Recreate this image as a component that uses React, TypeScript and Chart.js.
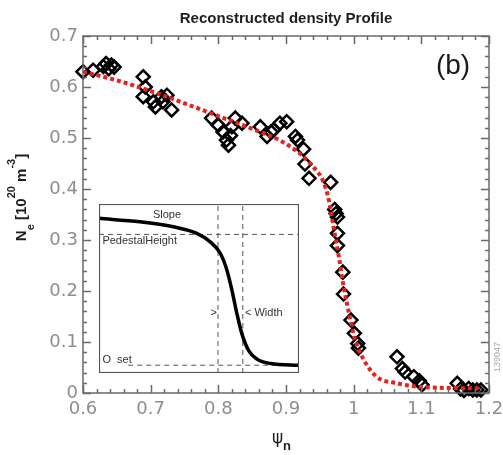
import React, { useEffect, useRef } from 'react';
import { Chart, registerables } from 'chart.js';

Chart.register(...registerables);

// Measured density points (psi_n, n_e in 1e20 m^-3)
const psiMeasured = [
  0.600, 0.615, 0.630, 0.634, 0.638, 0.642, 0.646,
  0.689, 0.692, 0.689, 0.704, 0.707, 0.716, 0.718, 0.724, 0.731,
  0.790, 0.800, 0.807, 0.812, 0.815, 0.818, 0.820, 0.825, 0.835,
  0.862, 0.872, 0.878, 0.882, 0.891, 0.901, 0.914, 0.917, 0.926, 0.928, 0.934,
  0.966, 0.972, 0.974, 0.976, 0.976, 0.976, 0.984, 0.985,
  0.996, 1.001, 1.006, 1.007,
  1.064, 1.072, 1.076, 1.089, 1.097, 1.101,
  1.153, 1.158, 1.163, 1.170, 1.176, 1.182, 1.188,
];
const neMeasured = [
  0.630, 0.633, 0.640, 0.646, 0.636, 0.643, 0.639,
  0.620, 0.600, 0.581, 0.571, 0.561, 0.581, 0.571, 0.584, 0.555,
  0.539, 0.525, 0.512, 0.496, 0.486, 0.505, 0.522, 0.539, 0.529,
  0.522, 0.503, 0.512, 0.516, 0.529, 0.532, 0.503, 0.496, 0.478, 0.449, 0.421,
  0.413, 0.360, 0.352, 0.345, 0.313, 0.289, 0.237, 0.194,
  0.143, 0.117, 0.097, 0.088,
  0.071, 0.048, 0.041, 0.032, 0.024, 0.016,
  0.019, 0.008, 0.005, 0.009, 0.006, 0.006, 0.006,
];

// Reconstructed fit (red dotted)
const psiFit = [
  0.600, 0.650, 0.700, 0.750, 0.800, 0.850, 0.890, 0.920, 0.940, 0.955,
  0.963, 0.970, 0.978, 0.985, 0.995, 1.002, 1.015, 1.034, 1.064, 1.100, 1.190,
];
const neFit = [
  0.630, 0.613, 0.592, 0.568, 0.543, 0.518, 0.496, 0.470, 0.444, 0.415,
  0.380, 0.327, 0.268, 0.210, 0.145, 0.105, 0.065, 0.032, 0.019, 0.012, 0.009,
];

const xTickValues = [0.6, 0.7, 0.8, 0.9, 1.0, 1.1, 1.2];
const xTickLabels = ['0.6', '0.7', '0.8', '0.9', '1', '1.1', '1.2'];
const yTickValues = [0, 0.1, 0.2, 0.3, 0.4, 0.5, 0.6, 0.7];
const yTickLabels = ['0', '0.1', '0.2', '0.3', '0.4', '0.5', '0.6', '0.7'];

// Inset schematic (normalized 0..100 units)
const insetCurveX = [0, 20.4, 37.2, 48.9, 55.6, 60.7, 64.0, 66.5, 69.0, 71.5, 74.9, 79.0, 85.8, 100];
const insetCurveY = [91.5, 89.5, 86.5, 82.6, 77.6, 70.7, 60.7, 48.8, 34.9, 23.0, 13.1, 8.2, 5.6, 4.6];
const insetPedestalX = [0, 100];
const insetPedestalY = [82, 82];
const insetOffsetX = [14.6, 100];
const insetOffsetY = [4.6, 4.6];
const insetWidthLeft = 59.5;
const insetWidthRight = 71.9;

const TICK_COLOR = '#8e8e8e';

const frameTicksPlugin = {
  id: 'frameTicks',
  beforeDraw(chart: any) {
    const { ctx, width, height } = chart;
    ctx.save();
    ctx.fillStyle = '#ffffff';
    ctx.fillRect(0, 0, width, height);
    ctx.restore();
  },
  afterDraw(chart: any) {
    const { ctx, chartArea: a, scales } = chart;
    const xs = scales.x;
    const ys = scales.y;
    ctx.save();
    ctx.strokeStyle = '#6a6a6a';
    ctx.lineWidth = 1.5;
    ctx.strokeRect(a.left, a.top, a.right - a.left, a.bottom - a.top);
    ctx.beginPath();
    for (let i = 0; i <= 30; i++) {
      const v = 0.6 + i * 0.02;
      const px = Math.round(xs.getPixelForValue(v)) + 0.5;
      const L = i % 5 === 0 ? 8 : 4;
      ctx.moveTo(px, a.bottom);
      ctx.lineTo(px, a.bottom - L);
      ctx.moveTo(px, a.top);
      ctx.lineTo(px, a.top + L);
    }
    for (let i = 0; i <= 35; i++) {
      const v = i * 0.02;
      const py = Math.round(ys.getPixelForValue(v)) + 0.5;
      const L = i % 5 === 0 ? 8 : 4;
      ctx.moveTo(a.left, py);
      ctx.lineTo(a.left + L, py);
      ctx.moveTo(a.right, py);
      ctx.lineTo(a.right - L, py);
    }
    ctx.stroke();

    // Title
    ctx.fillStyle = '#1e1e1e';
    ctx.font = 'bold 15px "Liberation Sans", Arial, sans-serif';
    ctx.textAlign = 'center';
    ctx.textBaseline = 'alphabetic';
    ctx.fillText('Reconstructed density Profile', (a.left + a.right) / 2, 23);

    // (b)
    ctx.font = '28px "Liberation Sans", Arial, sans-serif';
    ctx.textBaseline = 'middle';
    ctx.fillStyle = '#1a1a1a';
    ctx.fillText('(b)', 453, 66);

    // Shot number
    ctx.save();
    ctx.translate(498, 357);
    ctx.rotate(-Math.PI / 2);
    ctx.font = '9px "Liberation Sans", Arial, sans-serif';
    ctx.fillStyle = '#a8a8a8';
    ctx.textAlign = 'center';
    ctx.textBaseline = 'middle';
    ctx.fillText('139047', 0, 0);
    ctx.restore();

    // Y axis title
    const parts = [
      { t: 'N', f: 'bold 15px', dy: 0 },
      { t: 'e', f: 'bold 11px', dy: 8 },
      { t: ' [10', f: 'bold 15px', dy: 0 },
      { t: '20', f: 'bold 11px', dy: -11 },
      { t: ' m', f: 'bold 15px', dy: 0 },
      { t: '-3', f: 'bold 11px', dy: -11 },
      { t: ']', f: 'bold 15px', dy: 0 },
    ];
    const fam = ' "Liberation Sans", Arial, sans-serif';
    let total = 0;
    const widths: number[] = [];
    for (const p of parts) {
      ctx.font = p.f + fam;
      const w = ctx.measureText(p.t).width;
      widths.push(w);
      total += w;
    }
    ctx.save();
    ctx.translate(26, 197.5);
    ctx.rotate(-Math.PI / 2);
    ctx.textAlign = 'left';
    ctx.textBaseline = 'alphabetic';
    ctx.fillStyle = '#1e1e1e';
    let cx = -total / 2;
    parts.forEach((p, i) => {
      ctx.font = p.f + fam;
      ctx.fillText(p.t, cx, p.dy);
      cx += widths[i];
    });
    ctx.restore();

    // X axis title
    ctx.textAlign = 'left';
    ctx.textBaseline = 'alphabetic';
    ctx.fillStyle = '#1e1e1e';
    ctx.font = '17px "DejaVu Sans", sans-serif';
    ctx.fillText('\u03c8', 272, 443);
    ctx.font = 'bold 13px "Liberation Sans", Arial, sans-serif';
    ctx.fillText('n', 283, 450);
    ctx.restore();
  },
};

const insetPlugin = {
  id: 'insetDecor',
  beforeDraw(chart: any) {
    const { ctx, width, height } = chart;
    ctx.save();
    ctx.fillStyle = '#ffffff';
    ctx.fillRect(0, 0, width, height);
    ctx.restore();
  },
  afterDraw(chart: any) {
    const { ctx, width, height, scales } = chart;
    const xs = scales.x;
    const ys = scales.y;
    ctx.save();
    ctx.strokeStyle = '#555555';
    ctx.lineWidth = 1.2;
    ctx.strokeRect(0.5, 0.5, width - 1, height - 1);
    ctx.fillStyle = '#333333';
    ctx.font = '11px "Liberation Sans Narrow", "Liberation Sans", Arial, sans-serif';
    ctx.textBaseline = 'middle';
    ctx.textAlign = 'center';
    ctx.fillText('Slope', xs.getPixelForValue(34), ys.getPixelForValue(93.5));
    ctx.textAlign = 'left';
    ctx.fillText('PedestalHeight', xs.getPixelForValue(1.7), ys.getPixelForValue(78));
    ctx.fillText('>', xs.getPixelForValue(55.8), ys.getPixelForValue(35.3));
    ctx.fillText('< Width', xs.getPixelForValue(73), ys.getPixelForValue(35.3));
    ctx.fillText('O  set', xs.getPixelForValue(1.7), ys.getPixelForValue(8));
    ctx.restore();
  },
};

export default function App() {
  const mainRef = useRef<HTMLCanvasElement>(null);
  const insetRef = useRef<HTMLCanvasElement>(null);

  useEffect(() => {
    const tickFont = { family: '"DejaVu Sans", sans-serif', size: 18 };
    const main = new Chart(mainRef.current as HTMLCanvasElement, {
      type: 'scatter',
      data: {
        datasets: [
          {
            type: 'line',
            label: 'fit',
            data: psiFit.map((x, i) => ({ x, y: neFit[i] })),
            borderColor: '#e3231f',
            borderWidth: 4,
            borderDash: [4, 3],
            pointRadius: 0,
            fill: false,
            cubicInterpolationMode: 'monotone',
            clip: false,
          } as any,
          {
            label: 'measured',
            data: psiMeasured.map((x, i) => ({ x, y: neMeasured[i] })),
            pointStyle: 'rectRot',
            pointRadius: 6.5,
            borderColor: '#000000',
            backgroundColor: 'rgba(0,0,0,0)',
            borderWidth: 2.5,
            showLine: false,
            clip: false,
          } as any,
        ],
      },
      options: {
        responsive: false,
        animation: false,
        devicePixelRatio: 1,
        layout: { padding: { top: 36, right: 14, left: 0, bottom: 0 } },
        plugins: {
          legend: { display: false },
          tooltip: { enabled: false },
          title: { display: false },
        },
        scales: {
          x: {
            type: 'linear',
            min: 0.6,
            max: 1.2,
            afterBuildTicks: (s: any) => {
              s.ticks = xTickValues.map((v) => ({ value: v }));
            },
            afterFit: (s: any) => {
              s.height = 62;
              s.paddingLeft = 0;
              s.paddingRight = 0;
            },
            ticks: {
              callback: (_v: any, i: number) => xTickLabels[i],
              font: tickFont,
              color: TICK_COLOR,
              padding: 6,
              maxRotation: 0,
              autoSkip: false,
            },
            grid: { display: false, drawTicks: false },
            border: { display: false },
          },
          y: {
            type: 'linear',
            min: 0,
            max: 0.7,
            afterBuildTicks: (s: any) => {
              s.ticks = yTickValues.map((v) => ({ value: v }));
            },
            afterFit: (s: any) => {
              s.width = 83;
              s.paddingTop = 0;
              s.paddingBottom = 0;
            },
            ticks: {
              callback: (_v: any, i: number) => yTickLabels[i],
              font: tickFont,
              color: TICK_COLOR,
              padding: 5,
              autoSkip: false,
            },
            grid: { display: false, drawTicks: false },
            border: { display: false },
          },
        },
      } as any,
      plugins: [frameTicksPlugin],
    });

    const dashed = {
      borderColor: '#555555',
      borderWidth: 1,
      borderDash: [5, 4],
      pointRadius: 0,
      showLine: true,
      fill: false,
    };
    const inset = new Chart(insetRef.current as HTMLCanvasElement, {
      type: 'scatter',
      data: {
        datasets: [
          {
            label: 'curve',
            data: insetCurveX.map((x, i) => ({ x, y: insetCurveY[i] })),
            borderColor: '#000000',
            borderWidth: 3.5,
            pointRadius: 0,
            showLine: true,
            fill: false,
            cubicInterpolationMode: 'monotone',
          } as any,
          { label: 'ped', data: insetPedestalX.map((x, i) => ({ x, y: insetPedestalY[i] })), ...dashed } as any,
          { label: 'off', data: insetOffsetX.map((x, i) => ({ x, y: insetOffsetY[i] })), ...dashed } as any,
          { label: 'wl', data: [{ x: insetWidthLeft, y: 0 }, { x: insetWidthLeft, y: 100 }], ...dashed } as any,
          { label: 'wr', data: [{ x: insetWidthRight, y: 0 }, { x: insetWidthRight, y: 100 }], ...dashed } as any,
        ],
      },
      options: {
        responsive: false,
        animation: false,
        devicePixelRatio: 1,
        layout: { padding: 0 },
        plugins: { legend: { display: false }, tooltip: { enabled: false } },
        scales: {
          x: { type: 'linear', min: 0, max: 100, display: false },
          y: { type: 'linear', min: 0, max: 100, display: false },
        },
      } as any,
      plugins: [insetPlugin],
    });

    return () => {
      main.destroy();
      inset.destroy();
    };
  }, []);

  return (
    <div style={{ position: 'absolute', left: 0, top: 0, width: 503, height: 455, background: '#ffffff' }}>
      <canvas
        ref={mainRef}
        width={503}
        height={455}
        style={{ position: 'absolute', left: 0, top: 0, width: 503, height: 455 }}
      />
      <canvas
        ref={insetRef}
        width={200}
        height={169}
        style={{ position: 'absolute', left: 99, top: 204, width: 200, height: 169 }}
      />
    </div>
  );
}
